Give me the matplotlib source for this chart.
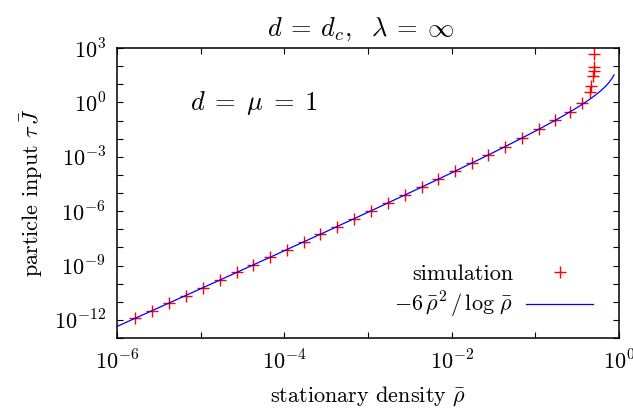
import numpy as np
import matplotlib
matplotlib.use("Agg")
import matplotlib.pyplot as plt
from matplotlib.ticker import NullLocator

plt.rcParams['font.family'] = ['cmr10', 'DejaVu Serif']
plt.rcParams['mathtext.fontset'] = 'cm'
plt.rcParams['axes.formatter.use_mathtext'] = True

# simulation data (log10 values)
log_rho_sim = [-5.78, -5.58, -5.38, -5.18, -4.97, -4.77, -4.57, -4.37, -4.17,
               -3.97, -3.77, -3.57, -3.37, -3.17, -2.97, -2.76, -2.56, -2.36,
               -2.16, -1.96, -1.76, -1.56, -1.36, -1.16, -0.96, -0.76,
               -0.59, -0.44, -0.35, -0.33, -0.31, -0.30, -0.30, -0.295]
log_J_sim = [-11.91, -11.49, -11.08, -10.66, -10.22, -9.80, -9.38, -8.97, -8.55,
             -8.12, -7.70, -7.28, -6.85, -6.43, -6.00, -5.55, -5.11, -4.68,
             -4.24, -3.80, -3.35, -2.90, -2.44, -1.97, -1.49, -0.99,
             -0.53, -0.05, 0.60, 0.92, 1.47, 1.74, 1.95, 2.68]

# theory curve -6 rho^2 / log rho, drawn over this range
rho_min, rho_max = 1e-6, 10**-0.06

x_ticks = [10.0**k for k in range(-6, 1)]
x_labels = [r'$10^{%d}$' % k if k % 2 == 0 else '' for k in range(-6, 1)]
y_ticks = [10.0**k for k in range(-13, 4)]
y_labels = [r'$10^{%d}$' % k if k % 3 == 0 else '' for k in range(-13, 4)]

rho_sim = 10.0**np.array(log_rho_sim)
J_sim = 10.0**np.array(log_J_sim)
rho_line = np.logspace(np.log10(rho_min), np.log10(rho_max), 400)
J_line = -6 * rho_line**2 / np.log(rho_line)

fig = plt.figure(figsize=(6.33, 4.08), dpi=100)
ax = fig.add_axes([117/633, 1-338/408, (619-117)/633, (338-48)/408])

ax.plot(rho_sim, J_sim, '+', color='red', ms=9, mew=1.0, ls='none', label='simulation')
ax.plot(rho_line, J_line, '-', color='blue', lw=0.9, label=r'$-6\,\bar\rho^2\,/\,\log\,\bar\rho$')

ax.set_xscale('log')
ax.set_yscale('log')
ax.set_xlim(1e-6, 1)
ax.set_ylim(1e-13, 1e3)
ax.set_xticks(x_ticks, x_labels)
ax.set_yticks(y_ticks, y_labels)
ax.xaxis.set_minor_locator(NullLocator())
ax.yaxis.set_minor_locator(NullLocator())
ax.tick_params(direction='in', length=4.5, width=0.8, top=True, right=True,
               labelsize=16, pad=8)
for s in ax.spines.values():
    s.set_linewidth(1.1)

ax.set_xlabel(r'stationary density $\bar\rho$', fontsize=16, labelpad=8)
ax.set_ylabel(r'particle input $\tau\,\bar J$', fontsize=16, labelpad=6)
ax.set_title(r'$d \:=\: d_c,\ \ \lambda \:=\: \infty$', fontsize=19, pad=9,
             x=(360 - 117) / 502)
ax.text(0.145, 0.81, r'$d \;=\; \mu \;=\; 1$', transform=ax.transAxes, fontsize=19,
        va='center', ha='left')

ax.legend(loc='lower right', bbox_to_anchor=(0.948, 0.061), frameon=False,
          markerfirst=False, fontsize=16, handlelength=3.0, handletextpad=0.58,
          labelspacing=0.3, borderpad=0, borderaxespad=0)

fig.savefig('out.png', dpi=100)
